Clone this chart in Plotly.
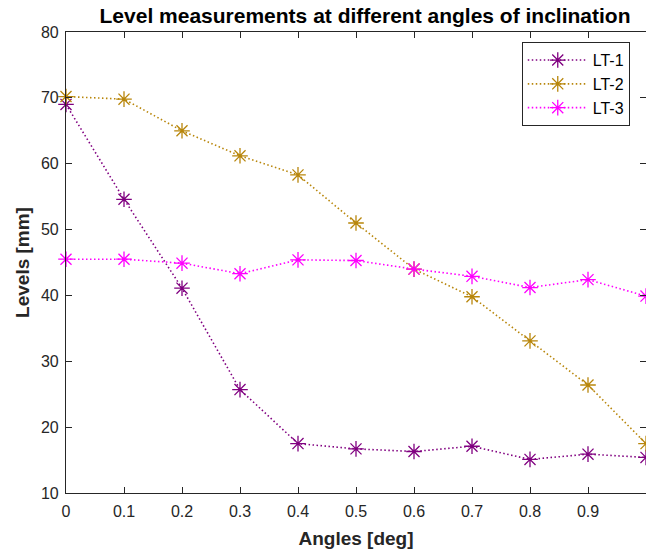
import plotly.graph_objects as go

angles = [0, 0.1, 0.2, 0.3, 0.4, 0.5, 0.6, 0.7, 0.8, 0.9, 1.0]
lt1 = [69.0, 54.6, 41.1, 25.7, 17.5, 16.7, 16.3, 17.1, 15.1, 15.9, 15.4]
lt2 = [70.2, 69.8, 65.0, 61.2, 58.3, 51.0, 44.0, 39.8, 33.1, 26.4, 17.5]
lt3 = [45.5, 45.5, 44.9, 43.3, 45.4, 45.3, 44.0, 42.9, 41.2, 42.4, 39.9]
names = ["LT-1", "LT-2", "LT-3"]
colors = ["#800080", "#B8860B", "#FF00FF"]

FONT = "Liberation Sans, Arial"

fig = go.Figure()
for name, ys, c in zip(names, [lt1, lt2, lt3], colors):
    fig.add_trace(go.Scatter(
        x=angles, y=ys, name=name, mode="lines+markers",
        line=dict(color=c, width=1.6, dash="1.5px,2.5px"),
        marker=dict(symbol="asterisk-open", size=13, color=c,
                    line=dict(color=c, width=1.3)),
        cliponaxis=False,
    ))

axis_common = dict(
    showline=True, linecolor="#262626", linewidth=1.2, mirror="ticks",
    ticks="inside", ticklen=6, tickcolor="#262626", showgrid=False, zeroline=False,
    tickfont=dict(family=FONT, size=16, color="#262626"),
)

fig.update_layout(
    width=646, height=554,
    margin=dict(l=66, r=0, t=32, b=61),
    paper_bgcolor="white", plot_bgcolor="white",
    title=dict(text="<b>Level measurements at different angles of inclination</b>",
               x=365 / 646, xanchor="center", y=1 - 16 / 554, yanchor="middle",
               font=dict(family=FONT, size=21, color="black")),
    xaxis=dict(range=[0, 1], tickvals=[0, 0.1, 0.2, 0.3, 0.4, 0.5, 0.6, 0.7, 0.8, 0.9, 1],
               ticktext=["0", "0.1", "0.2", "0.3", "0.4", "0.5", "0.6", "0.7", "0.8", "0.9", "1"],
               ticklabelstandoff=4,
               title=dict(text="<b>Angles [deg]</b>", standoff=12,
                          font=dict(family=FONT, size=19, color="#262626")),
               **axis_common),
    yaxis=dict(range=[10, 80], tickvals=[10, 20, 30, 40, 50, 60, 70, 80],
               ticklabelstandoff=3,
               title=dict(text="<b>Levels [mm]</b>", standoff=6,
                          font=dict(family=FONT, size=19, color="#262626")),
               **axis_common),
    legend=dict(x=0.972, y=0.978, xanchor="right", yanchor="top",
                bordercolor="#262626", borderwidth=1, bgcolor="white",
                font=dict(family=FONT, size=16, color="black"),
                itemwidth=60),
    showlegend=True,
)

fig.write_html("out.html")
